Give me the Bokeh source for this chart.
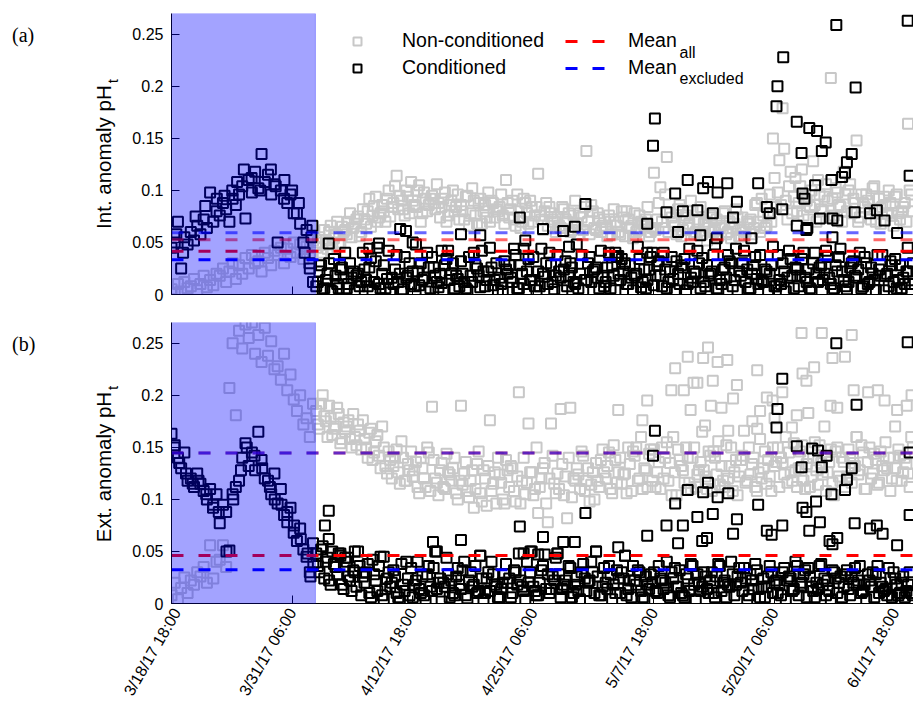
import math
import numpy as np
import pandas as pd
from bokeh.plotting import figure
from bokeh.layouts import column, row
from bokeh.models import (ColumnDataSource, Range1d, FixedTicker, BoxAnnotation,
                          Label, Legend, LegendItem, Div)
from bokeh.embed import file_html
from bokeh.resources import INLINE

# ------------------------------------------------------------------ data
start_time = "2017-03-18 18:00"      # first sample
sample_hours = 8                      # regular sampling step of the series below
mid_start_days = 15                   # the *_mid series start here ...
mid_offset_hours = 4                  # ... shifted by this, same sampling step
axis_end_days = 76.9                  # visible span of the time axis (days)
excluded_start = "2017-03-18 18:00"   # shaded (excluded) period
excluded_end = "2017-04-02 16:00"

x_tick_labels = ["3/18/17 18:00", "3/31/17 06:00", "4/12/17 18:00", "4/25/17 06:00",
                 "5/7/17 18:00", "5/20/17 06:00", "6/1/17 18:00"]
y_ticks = [0, 0.05, 0.1, 0.15, 0.2, 0.25]
y_tick_labels = ["0", "0.05", "0.1", "0.15", "0.2", "0.25"]

# values in 1/1000 pH units, one every `sample_hours`
int_noncond = [
    5, 2, 10, 3, 12, 6, 8, 15, 4, 10, 18, 7, 14, 9, 20,
    18, 25, 12, 22, 30, 15, 28, 20, 35, 25, 38, 30, 32, 22, 40,
    35, 28, 42, 38, 45, 30, 44, 36, 50, 40, 48, 34, 46, 38, 52,
    45, 55, 40, 52, 60, 48, 58, 50, 65, 62, 70, 55, 68, 75, 60,
    72, 80, 65, 85, 70, 78, 80, 92, 75, 88, 114, 95, 82, 100, 78,
    90, 84, 105, 78, 92, 86, 95, 82, 88, 84, 98, 76, 90, 80, 96,
    86, 72, 95, 78, 90, 68, 92, 80, 74, 70, 88, 82, 84, 76, 110,
    74, 90, 66, 80, 70, 88, 68, 84, 76, 116, 72, 80, 66, 78, 70,
    74, 64, 82, 70, 60, 76, 68, 78, 62, 138, 58, 80, 62, 74, 66,
    64, 76, 58, 70, 60, 80, 56, 72, 66, 78, 62, 70, 66, 84, 60,
    117, 72, 103, 64, 132, 78, 70, 58, 86, 62, 76, 68, 80, 60, 72,
    58, 70, 64, 74, 62, 56, 66, 80, 60, 54, 68, 74, 62, 56, 70,
    72, 64, 88, 60, 76, 66, 96, 150, 84, 129, 179, 90, 104, 78, 112,
    88, 120, 96, 72, 100, 86, 110, 82, 94, 90, 208, 76, 98, 84, 118,
    80, 106, 92, 148, 74, 88, 96, 82, 102, 70, 92, 84, 86, 100, 76,
    94, 78, 80, 88, 164, 96]
int_cond = [
    45, 50, 70, 25, 55, 48, 60, 52, 66, 58, 72, 64, 98, 70, 80,
    76, 88, 82, 70, 92, 86, 96, 104, 73, 110, 98, 118, 102, 135, 108,
    115, 96, 106, 50, 100, 92, 88, 96, 78, 78, 68, 50, 62, 25, 12,
    8, 22, 5, 14, 30, 3, 18, 6, 26, 40, 10, 16, 4, 20, 12,
    24, 8, 35, 12, 45, 6, 28, 15, 2, 10, 38, 20, 5, 16, 30,
    22, 48, 9, 14, 3, 26, 36, 18, 7, 11, 28, 42, 20, 6, 15,
    32, 12, 4, 18, 40, 25, 7, 22, 14, 45, 9, 30, 16, 3, 24,
    28, 12, 38, 6, 20, 52, 34, 14, 8, 22, 44, 17, 10, 28, 5,
    38, 16, 24, 8, 30, 12, 48, 20, 4, 14, 36, 22, 26, 6, 18,
    12, 40, 28, 4, 20, 34, 30, 10, 16, 18, 46, 7, 24, 14, 36,
    9, 28, 18, 40, 6, 22, 15, 32, 10, 26, 4, 44, 12, 20, 30,
    35, 8, 18, 22, 48, 5, 10, 26, 38, 30, 14, 4, 18, 42, 24,
    6, 28, 15, 38, 12, 22, 20, 46, 8, 14, 30, 3, 42, 18, 26,
    8, 34, 16, 24, 4, 40, 12, 28, 20, 36, 10, 6, 22, 44, 14,
    5, 26, 32, 16, 40, 8, 30, 12, 20, 4, 24, 38, 18, 8, 28,
    34, 14, 6, 10, 22, 4]
ext_noncond = [
    8, 20, 4, 15, 25, 10, 22, 18, 30, 26, 35, 20, 56, 24, 40,
    42, 56, 35, 207, 250, 181, 262, 245, 268, 255, 270, 240, 258, 232, 265,
    238, 252, 225, 228, 215, 240, 205, 220, 196, 185, 200, 172, 178, 160, 192,
    185, 168, 200, 175, 190, 162, 170, 182, 158, 165, 176, 150, 160, 172, 148,
    158, 140, 168, 145, 162, 130, 150, 125, 138, 132, 148, 115, 140, 118, 128,
    122, 136, 106, 130, 112, 145, 189, 120, 104, 135, 110, 126, 118, 140, 100,
    190, 125, 108, 118, 92, 134, 106, 128, 94, 176, 115, 96, 124, 100, 138,
    112, 130, 98, 203, 118, 105, 173, 126, 110, 87, 120, 135, 78, 173, 115,
    125, 187, 104, 82, 188, 120, 130, 110, 142, 118, 98, 126, 135, 112, 148,
    120, 145, 106, 138, 126, 115, 125, 150, 108, 142, 118, 160, 130, 112, 148,
    148, 126, 110, 120, 155, 135, 160, 104, 138, 128, 150, 116, 140, 112, 128,
    165, 122, 146, 108, 140, 156, 132, 112, 120, 150, 126, 104, 138, 166, 118,
    124, 140, 108, 158, 130, 115, 122, 150, 136, 112, 135, 160, 145, 118, 128,
    130, 152, 110, 140, 122, 155, 114, 135, 170, 126, 148, 104, 150, 118, 136,
    122, 140, 135, 160, 128, 145, 110, 150, 125, 138, 116, 132, 155, 140, 120,
    130, 148, 118, 140, 125, 160]
ext_cond = [
    163, 152, 140, 130, 145, 118, 120, 112, 125, 115, 108, 100, 110, 95, 105,
    77, 95, 88, 51, 105, 112, 118, 140, 154, 132, 145, 128, 165, 138, 120,
    118, 105, 125, 96, 110, 85, 78, 92, 68, 60, 72, 52, 45, 30, 58,
    48, 30, 55, 40, 22, 50, 35, 48, 18, 44, 26, 12, 30, 50, 8,
    20, 38, 6, 28, 12, 45, 4, 24, 16, 32, 10, 2, 18, 40, 8,
    6, 22, 14, 26, 3, 36, 12, 50, 20, 2, 16, 28, 22, 8, 34,
    14, 40, 5, 30, 18, 10, 46, 4, 24, 12, 28, 16, 6, 20, 38,
    24, 10, 30, 48, 16, 4, 20, 50, 12, 8, 32, 47, 28, 14, 22,
    48, 6, 18, 16, 34, 10, 26, 4, 38, 12, 22, 30, 50, 8, 16,
    20, 36, 4, 10, 24, 30, 46, 14, 6, 22, 32, 12, 4, 18, 28,
    30, 10, 24, 14, 40, 6, 24, 16, 32, 8, 28, 12, 36, 4, 20,
    16, 26, 10, 30, 6, 38, 12, 22, 18, 40, 8, 26, 20, 34, 4,
    28, 14, 32, 6, 24, 16, 36, 10, 22, 18, 30, 4, 26, 12, 40,
    8, 20, 32, 34, 16, 6, 14, 38, 24, 22, 4, 30, 10, 26, 16,
    32, 8, 20, 18, 36, 12, 4, 22, 30, 28, 10, 16, 14, 34, 6,
    24, 8, 20, 6, 18, 10]

# in-between samples after the excluded period (1/1000 pH)
int_noncond_mid = [
    50, 38, 62, 44, 66, 54, 70, 48, 60, 58, 78, 64, 72, 56, 82,
    68, 92, 76, 94, 74, 86, 70, 100, 84, 104, 82, 90, 76, 94, 108,
    86, 100, 70, 98, 80, 92, 88, 106, 74, 92, 70, 86, 100, 84, 72,
    80, 94, 66, 102, 76, 88, 68, 86, 98, 90, 74, 80, 96, 68, 88,
    82, 72, 96, 64, 92, 78, 90, 70, 84, 76, 62, 88, 84, 72, 60,
    66, 84, 72, 78, 62, 90, 58, 74, 84, 70, 86, 64, 78, 60, 72,
    56, 70, 82, 66, 58, 74, 80, 64, 54, 60, 76, 68, 72, 56, 64,
    62, 88, 70, 96, 60, 74, 66, 82, 56, 74, 64, 90, 58, 70, 84,
    68, 52, 76, 60, 72, 64, 78, 58, 70, 64, 82, 56, 74, 60, 68,
    58, 86, 70, 92, 64, 78, 70, 112, 98, 86, 140, 72, 118, 94, 80,
    104, 76, 90, 84, 128, 70, 96, 80, 106, 74, 92, 102, 86, 70, 96,
    100, 78, 88, 70, 96, 84, 90, 72, 104, 82, 68, 94, 78, 88, 66,
    96, 72, 84, 70, 100, 80]
int_cond_mid = [
    12, 28, 6, 20, 4, 34, 10, 24, 16, 6, 30, 22, 18, 8, 40,
    14, 26, 4, 32, 10, 20, 6, 42, 16, 24, 12, 3, 36, 18, 10,
    8, 22, 30, 16, 40, 6, 26, 12, 20, 4, 34, 14, 30, 18, 8,
    20, 6, 36, 12, 28, 18, 42, 8, 22, 26, 14, 4, 10, 32, 20,
    16, 44, 6, 28, 10, 22, 14, 36, 4, 8, 20, 30, 40, 12, 18,
    22, 4, 32, 18, 26, 10, 6, 38, 14, 30, 12, 24, 16, 42, 8,
    26, 6, 18, 36, 14, 22, 10, 28, 4, 20, 34, 12, 6, 24, 40,
    18, 32, 8, 24, 12, 36, 4, 20, 28, 34, 10, 16, 22, 42, 6,
    12, 28, 20, 38, 6, 14, 24, 16, 32, 8, 44, 22, 30, 12, 6,
    20, 36, 10, 14, 24, 4, 28, 8, 38, 10, 22, 16, 34, 6, 24,
    18, 40, 12, 6, 30, 20, 26, 14, 42, 16, 4, 28, 36, 22, 8,
    12, 30, 18, 24, 6, 36, 10, 26, 14, 38, 18, 4, 20, 32, 12,
    6, 28, 16, 22, 10, 30]
ext_noncond_mid = [
    172, 192, 180, 160, 178, 168, 188, 154, 174, 170, 158, 182, 152, 166, 176,
    150, 164, 138, 156, 142, 170, 132, 146, 120, 140, 126, 156, 118, 134, 146,
    128, 112, 140, 120, 150, 108, 138, 116, 128, 112, 144, 124, 130, 106, 118,
    114, 136, 102, 128, 110, 146, 98, 120, 132, 108, 126, 140, 116, 96, 128,
    132, 108, 122, 96, 140, 116, 126, 104, 150, 112, 130, 96, 120, 142, 106,
    110, 134, 122, 140, 102, 118, 124, 146, 108, 130, 114, 100, 118, 138, 126,
    132, 110, 152, 116, 140, 124, 106, 134, 146, 150, 120, 110, 128, 144, 118,
    112, 136, 150, 140, 118, 104, 126, 148, 132, 116, 140, 110, 150, 124, 136,
    128, 110, 142, 146, 124, 114, 118, 152, 132, 108, 138, 122, 142, 116, 150,
    134, 112, 126, 120, 146, 138, 108, 132, 150, 140, 124, 116, 126, 154, 112,
    146, 118, 134, 112, 140, 128, 152, 124, 108, 136, 116, 146, 122, 140, 112,
    148, 116, 132, 124, 152, 110, 136, 120, 144, 114, 146, 128, 130, 108, 140,
    118, 142, 126, 134, 112, 150]
ext_cond_mid = [
    36, 52, 24, 44, 18, 38, 28, 46, 14, 40, 22, 32, 16, 36, 26,
    30, 10, 42, 22, 36, 8, 14, 30, 20, 26, 6, 38, 12, 24, 34,
    18, 40, 10, 8, 28, 16, 34, 14, 24, 20, 44, 6, 10, 26, 18,
    32, 8, 22, 16, 36, 12, 24, 10, 30, 40, 18, 6, 14, 28, 20,
    6, 32, 18, 22, 12, 40, 30, 16, 8, 20, 36, 14, 10, 26, 44,
    28, 14, 22, 36, 6, 18, 12, 30, 24, 20, 40, 10, 26, 8, 34,
    14, 28, 18, 32, 10, 24, 8, 22, 36, 18, 30, 6, 26, 14, 20,
    12, 36, 22, 20, 8, 30, 34, 16, 10, 6, 24, 38, 18, 28, 12,
    30, 14, 22, 10, 26, 36, 20, 6, 16, 28, 18, 34, 12, 24, 8,
    22, 38, 14, 16, 6, 26, 30, 20, 10, 8, 34, 22, 24, 14, 36,
    16, 28, 6, 26, 12, 20, 36, 18, 8, 12, 32, 24, 20, 6, 28,
    14, 26, 34, 22, 10, 18, 28, 16, 6, 36, 20, 12, 8, 24, 30,
    18, 10, 26, 12, 30, 8]

# additional irregular samples: days after start_time, value (1/1000 pH)
int_cond_extra_day = [
    0.5, 1.2, 2.5, 3.5, 4.7, 5.5, 6.3, 6.8, 7.5, 8.3, 9.2, 10.3, 10.8, 11.7, 12.5,
    13.2, 13.8, 14.3, 14.5, 14.6, 16.3, 20.5, 21.5, 23.7, 24.3, 25.0, 28.0, 30.0,
    32.0, 36.1, 36.5, 38.5, 40.6, 41.2, 41.8, 42.9, 46.0, 46.3, 49.3, 49.3, 49.9,
    50.1, 51.3, 52.2, 52.5, 53.0, 53.5, 54.5, 54.8, 55.1, 55.6, 56.1, 56.5, 56.6,
    57.6, 58.2, 58.6, 60.1, 60.8, 61.7, 62.0, 62.7, 62.8, 63.3, 63.4, 64.8, 64.8,
    65.3, 65.4, 65.6, 65.8, 65.9, 66.1, 66.7, 66.9, 67.2, 67.4, 67.8, 68.4, 68.5,
    68.5, 68.9, 69.0, 69.5, 69.8, 70.0, 70.5, 70.8, 70.9, 72.4, 73.1, 73.9, 75.2,
    76.3, 76.3, 76.5]
int_cond_extra_val = [
    58, 40, 75, 85, 92, 95, 100, 108, 120, 112, 100, 120, 104, 110, 100,
    88, 40, 30, 55, 66, 49, 44, 49, 63, 61, 50, 42, 58,
    57, 74, 44, 63, 61, 46, 65, 87, 40, 37, 40, 68, 143,
    169, 79, 97, 60, 80, 110, 81, 57, 102, 108, 78, 54, 98,
    107, 74, 89, 54, 107, 84, 78, 181, 200, 82, 228, 166, 66,
    136, 97, 92, 62, 64, 160, 105, 157, 73, 138, 146, 110, 73,
    55, 259, 71, 113, 117, 127, 135, 79, 199, 78, 81, 71, 59,
    263, 45, 114]
ext_noncond_extra_day = [
    46.3, 49.3, 48.8, 52.2, 53.5, 55.6, 55.1, 56.6, 57.6, 54.5, 54.1, 56.1, 58.6,
    51.8, 53.1, 53.8, 55.9, 57.0, 58.2, 55.3, 57.7, 60.7, 65.3, 67.4, 70.5, 65.4,
    66.6, 65.8, 68.5, 69.8, 61.7, 62.3, 63.3, 64.8, 66.0, 64.3, 60.2, 60.7, 68.3,
    69.0, 70.7, 72.2, 73.2, 73.9, 75.2, 76.2, 76.7, 75.0, 71.0, 61.0, 62.5]
ext_noncond_extra_val = [
    186, 195, 176, 226, 237, 246, 236, 232, 234, 212, 212, 214, 210,
    205, 205, 186, 190, 188, 197, 171, 166, 224, 260, 260, 258, 221,
    227, 214, 236, 237, 198, 195, 203, 181, 183, 169, 175, 168, 190,
    188, 205, 203, 205, 195, 186, 190, 200, 170, 160, 185, 178]
ext_cond_extra_day = [
    0.3, 0.8, 1.5, 2.2, 2.8, 3.6, 4.3, 4.9, 5.7, 6.4, 7.2, 7.8, 8.6, 9.4, 10.2,
    10.7, 11.4, 12.0, 12.7, 13.4, 14.1, 14.7, 14.4, 15.9, 16.3, 16.3, 17.5, 18.3,
    19.0, 22.0, 27.1, 27.5, 30.0, 32.0, 36.1, 36.5, 37.2, 38.0, 38.5, 40.0, 40.6,
    41.8, 42.9, 44.0, 46.3, 47.0, 49.3, 49.9, 50.1, 51.3, 52.2, 52.5, 53.0, 53.5,
    54.5, 55.0, 55.1, 55.5, 55.6, 56.1, 56.6, 57.7, 58.2, 58.6, 60.8, 61.7, 62.2,
    62.7, 62.8, 63.3, 63.3, 64.8, 65.3, 65.4, 65.8, 66.1, 66.4, 66.8, 67.0, 67.2,
    67.4, 67.9, 68.2, 68.4, 68.5, 68.9, 69.0, 69.8, 70.0, 70.5, 70.8, 71.0, 72.4,
    73.1, 73.7, 75.2, 76.3, 76.5, 76.5]
ext_cond_extra_val = [
    150, 135, 125, 115, 118, 105, 92, 88, 50, 100, 128, 150, 142, 130, 112,
    100, 95, 88, 75, 62, 48, 38, 26, 75, 89, 62, 48, 44,
    50, 45, 59, 50, 61, 46, 74, 48, 50, 47, 64, 48, 59,
    59, 87, 50, 54, 46, 65, 142, 166, 75, 96, 58, 75, 109,
    83, 60, 107, 63, 116, 86, 102, 106, 67, 81, 95, 70, 66,
    169, 187, 216, 75, 151, 131, 92, 88, 70, 149, 98, 147, 78,
    131, 142, 60, 105, 57, 250, 63, 109, 119, 130, 77, 191, 72,
    75, 67, 56, 251, 145, 85]

# mean levels: [non-conditioned, conditioned]
int_mean_all = [0.0526, 0.0416]
int_mean_excluded = [0.0593, 0.0333]
ext_mean_all = [0.1445, 0.0462]
ext_mean_excluded = [0.1445, 0.0324]

# ------------------------------------------------------------------ helpers
FONT = "Liberation Sans"
t0 = pd.Timestamp(start_time)
GRAY = "#c8c8c8"
DASH = "12 15"
LEFT_W = 120
FIG_W = 913 - LEFT_W


def ms(ts):
    return pd.Timestamp(ts).value / 1e6


def series_source(regular, mid, extra_day, extra_val):
    reg_t = t0 + pd.to_timedelta(np.arange(len(regular)) * sample_hours, unit="h")
    mid_t = (t0 + pd.to_timedelta(mid_start_days, unit="D")
             + pd.to_timedelta(mid_offset_hours + np.arange(len(mid)) * sample_hours, unit="h"))
    ext_t = t0 + pd.to_timedelta(np.asarray(extra_day, dtype=float), unit="D")
    n = min(len(extra_day), len(extra_val))
    x = list(reg_t) + list(mid_t) + list(ext_t[:n])
    y = (list(np.asarray(regular) / 1000.0) + list(np.asarray(mid) / 1000.0)
         + list(np.asarray(extra_val[:n]) / 1000.0))
    return ColumnDataSource(dict(x=x, y=y))


tick_ms = [int(pd.to_datetime(s, format="%m/%d/%y %H:%M").value // 10**6) for s in x_tick_labels]
x_start = ms(t0)
x_end = ms(t0 + pd.to_timedelta(axis_end_days, unit="D"))


def make_panel(height, top, bottom, nc_src, c_src, mean_all, mean_excl, show_xlabels):
    p = figure(width=FIG_W, height=height, x_axis_type="datetime",
               x_range=Range1d(x_start, x_end), y_range=Range1d(0, 0.27),
               output_backend="svg", toolbar_location=None,
               min_border_left=171 - LEFT_W, min_border_right=0,
               min_border_top=top, min_border_bottom=bottom)
    p.outline_line_color = None
    p.xgrid.visible = False
    p.ygrid.visible = False

    r_nc = p.scatter("x", "y", source=nc_src, marker="square", size=10,
                     fill_color=None, line_color=GRAY, line_width=2)
    r_c = p.scatter("x", "y", source=c_src, marker="square", size=10,
                    fill_color=None, line_color="black", line_width=2)

    xs = [x_start, x_end]
    p.line(xs, [mean_all[0]] * 2, line_color="red", line_alpha=0.6, line_width=3, line_dash=DASH)
    p.line(xs, [mean_excl[0]] * 2, line_color="blue", line_alpha=0.6, line_width=3, line_dash=DASH)
    r_all = p.line(xs, [mean_all[1]] * 2, line_color="red", line_width=3, line_dash=DASH)
    r_excl = p.line(xs, [mean_excl[1]] * 2, line_color="blue", line_width=3, line_dash=DASH)

    p.add_layout(BoxAnnotation(left=ms(excluded_start), right=ms(excluded_end),
                               fill_color="blue", fill_alpha=0.36,
                               line_color="blue", line_alpha=0.3, line_width=1))

    for ax in (p.xaxis[0], p.yaxis[0]):
        ax.axis_line_color = "black"
        ax.major_tick_line_color = "black"
        ax.minor_tick_line_color = "black"
        ax.major_tick_in = 8
        ax.major_tick_out = 0
        ax.minor_tick_in = 8
        ax.minor_tick_out = 0
        ax.major_label_text_font = FONT
        ax.major_label_text_color = "black"

    p.yaxis.ticker = FixedTicker(ticks=y_ticks, minor_ticks=[])
    p.yaxis.major_label_overrides = {t: s for t, s in zip(y_ticks, y_tick_labels)}
    p.yaxis.major_label_text_font_size = "16px"
    p.yaxis.major_label_standoff = 8

    if show_xlabels:
        p.xaxis.ticker = FixedTicker(ticks=tick_ms, minor_ticks=[])
        p.xaxis.major_label_overrides = {t: s for t, s in zip(tick_ms, x_tick_labels)}
        p.xaxis.major_label_text_font_size = "16px"
        p.xaxis.major_label_orientation = math.radians(60)
        p.xaxis.major_label_standoff = 6
    else:
        # tick marks only, no labels on the upper panel
        p.xaxis.ticker = FixedTicker(ticks=[], minor_ticks=tick_ms)
    return p, r_nc, r_c, r_all, r_excl


src_int_nc = series_source(int_noncond, int_noncond_mid, [], [])
src_int_c = series_source(int_cond, int_cond_mid, int_cond_extra_day, int_cond_extra_val)
src_ext_nc = series_source(ext_noncond, ext_noncond_mid, ext_noncond_extra_day,
                           ext_noncond_extra_val)
src_ext_c = series_source(ext_cond, ext_cond_mid, ext_cond_extra_day, ext_cond_extra_val)

p1, r1_nc, r1_c, r1_all, r1_excl = make_panel(308, 13, 14, src_int_nc, src_int_c,
                                              int_mean_all, int_mean_excluded, False)
p2, _, _, _, _ = make_panel(399, 14, 104, src_ext_nc, src_ext_c,
                            ext_mean_all, ext_mean_excluded, True)

# legend (panel a)
common = dict(padding=0, margin=0, spacing=4, border_line_color=None,
              background_fill_alpha=0, label_text_font=FONT,
              label_text_font_size="19.5px", label_text_color="black",
              glyph_height=20, label_height=20)
legend1 = Legend(items=[LegendItem(label="Non-conditioned", renderers=[r1_nc]),
                        LegendItem(label="Conditioned", renderers=[r1_c])],
                 location=(171, 215), glyph_width=30, label_standoff=30, **common)
legend2 = Legend(items=[LegendItem(label="Mean", renderers=[r1_all]),
                        LegendItem(label="Mean", renderers=[r1_excl])],
                 location=(394, 215), glyph_width=40, label_standoff=23, **common)
p1.add_layout(legend1)
p1.add_layout(legend2)
p1.add_layout(Label(x=508, y=242, x_units="screen", y_units="screen", text="all",
                    text_align="left", text_baseline="alphabetic", text_font=FONT,
                    text_font_size="16px", text_color="black"))
p1.add_layout(Label(x=508, y=216, x_units="screen", y_units="screen", text="excluded",
                    text_align="left", text_baseline="alphabetic", text_font=FONT,
                    text_font_size="16px", text_color="black"))

# panel letters and rotated axis titles (with subscript) in a side column
ROT = ("position:absolute;left:{x}px;top:{y}px;white-space:nowrap;"
       "transform:translate(-50%,-50%) rotate(-90deg);font-size:20.5px;line-height:1.1;")
SUB = "font-size:15px;position:relative;top:7px;margin-left:2px;"
LET = ("position:absolute;left:12px;top:{y}px;font-family:'Liberation Serif';"
       "font-size:20px;line-height:20px;")
html = (
    "<div style=\"position:relative;width:%dpx;height:707px;font-family:'Liberation Sans';"
    "color:black;\">" % LEFT_W
    + "<span style=\"" + LET.format(y=25) + "\">(a)</span>"
    + "<span style=\"" + LET.format(y=334) + "\">(b)</span>"
    + "<span style=\"" + ROT.format(x=104, y=154) + "\">Int. anomaly pH"
      "<span style=\"" + SUB + "\">t</span></span>"
    + "<span style=\"" + ROT.format(x=104, y=464) + "\">Ext. anomaly pH"
      "<span style=\"" + SUB + "\">t</span></span>"
    + "</div>")
side = Div(text=html, width=LEFT_W, height=707, margin=0)

layout = row(side, column(p1, p2))
open("out.html", "w").write(file_html(layout, INLINE))
